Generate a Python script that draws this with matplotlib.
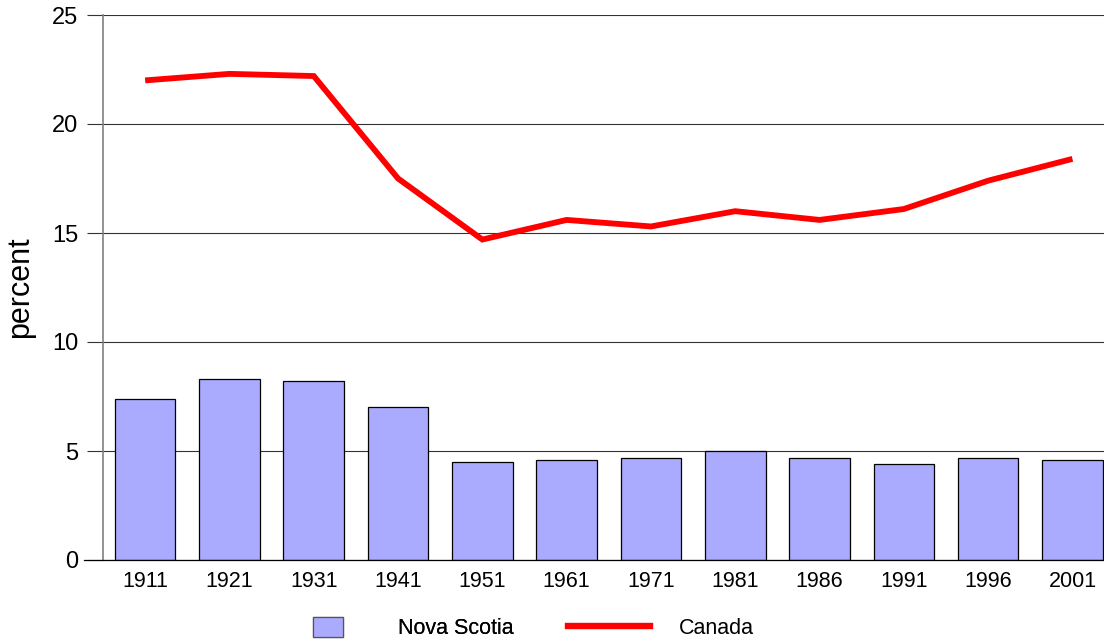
import matplotlib.pyplot as plt
from matplotlib.patches import Patch
from matplotlib.lines import Line2D

years = ['1911', '1921', '1931', '1941', '1951', '1961', '1971',
         '1981', '1986', '1991', '1996', '2001']
nova_scotia = [7.4, 8.3, 8.2, 7.0, 4.5, 4.6, 4.7, 5.0, 4.7, 4.4, 4.7, 4.6]
canada = [22.0, 22.3, 22.2, 17.5, 14.7, 15.6, 15.3, 16.0, 15.6, 16.1, 17.4, 18.4]

plt.rcParams['font.family'] = ['Liberation Sans', 'DejaVu Sans']

fig = plt.figure(figsize=(11.04, 6.44), dpi=100)
ax = fig.add_axes([103 / 1104, 1 - 560 / 644, 1011.6 / 1104, 545 / 644])

x = list(range(len(years)))
ax.bar(x, nova_scotia, width=0.72, color='#AAAAFF', edgecolor='black',
       linewidth=0.9, zorder=2)
ax.plot(x, canada, color='#FF0000', linewidth=4.2, zorder=3,
        solid_capstyle='butt', solid_joinstyle='miter')

ax.set_xlim(-0.5, len(years) - 0.5)
ax.set_ylim(0, 25)
ax.set_yticks([0, 5, 10, 15, 20, 25])
ax.set_xticks(x)
ax.set_xticklabels(years, fontsize=15.5)
ax.tick_params(axis='x', length=0, pad=8)
ax.tick_params(axis='y', length=11.5, width=0.8, color='#333333',
               labelsize=17, pad=6.5)
ax.yaxis.grid(True, color='#333333', linewidth=0.8, zorder=0)
ax.set_axisbelow(True)
ax.set_ylabel('percent', fontsize=22, labelpad=12)

for s in ['top', 'right']:
    ax.spines[s].set_visible(False)
ax.spines['left'].set_color('#808080')
ax.spines['left'].set_linewidth(1.2)
ax.spines['bottom'].set_color('black')
ax.spines['bottom'].set_linewidth(0.9)
ax.spines['bottom'].set_bounds(-0.72, len(years) - 0.5)

fs = 15.5
px = fs * 100 / 72
leg1 = fig.legend(handles=[Patch(facecolor='#AAAAFF', edgecolor='#555555', linewidth=0.9)],
                  labels=['Nova Scotia'], loc='center left',
                  bbox_to_anchor=(313 / 1104, 1 - 628 / 644), frameon=False,
                  fontsize=fs, borderpad=0, borderaxespad=0,
                  handlelength=30 / px, handleheight=23 / px, handletextpad=55 / px)
leg2 = fig.legend(handles=[Line2D([], [], color='#FF0000', linewidth=4.6)],
                  labels=['Canada'], loc='center left',
                  bbox_to_anchor=(568 / 1104, 1 - 628 / 644), frameon=False,
                  fontsize=fs, borderpad=0, borderaxespad=0,
                  handlelength=82 / px, handletextpad=29 / px)
fig.add_artist(leg1)

fig.savefig('out.png', dpi=100)
